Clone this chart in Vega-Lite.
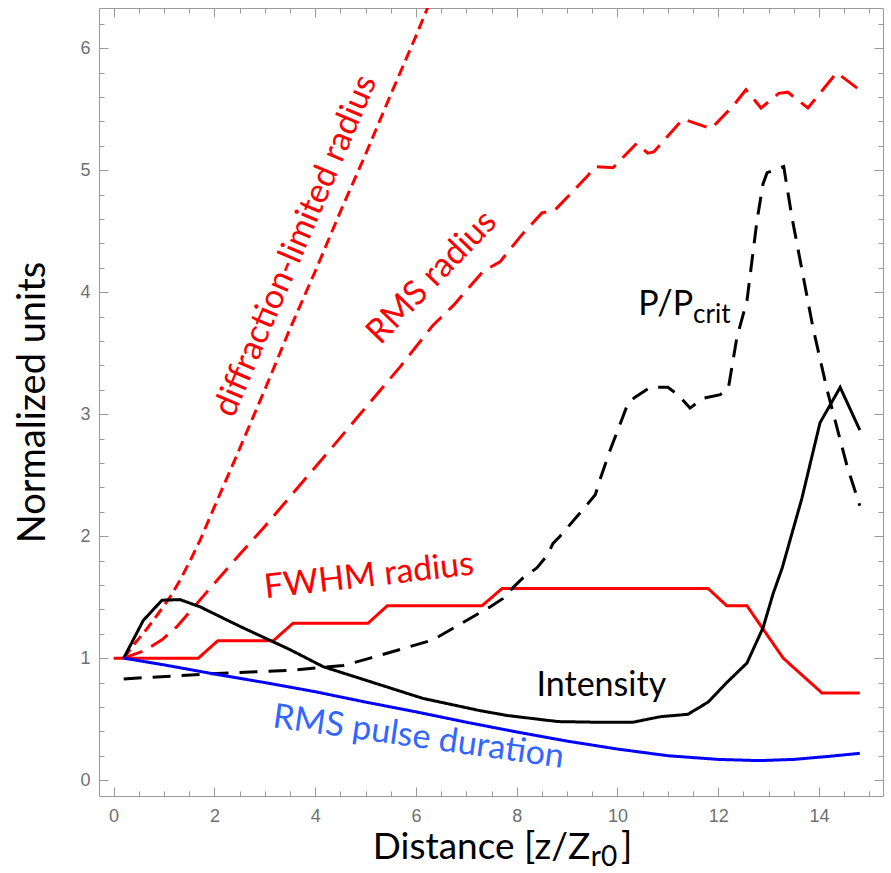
{
  "$schema": "https://vega.github.io/schema/vega-lite/v6.json",
  "width": 784,
  "height": 788,
  "autosize": {"type": "none"},
  "padding": {"left": 99, "top": 8, "right": 8, "bottom": 77},
  "background": "white",
  "config": {
    "view": {"stroke": "#9a9a9a", "strokeWidth": 1},
    "axis": {"grid": false, "domain": false, "tickColor": "#9a9a9a", "tickWidth": 1, "labelFont": "Liberation Sans", "labelFontSize": 18, "labelColor": "#707070"}
  },
  "datasets": {
    "curves": [
      {"s": "diff", "x": 0.2, "y": 1.0}, {"s": "diff", "x": 0.4, "y": 1.11}, {"s": "diff", "x": 0.66, "y": 1.24}, {"s": "diff", "x": 0.86, "y": 1.35}, {"s": "diff", "x": 1.12, "y": 1.5}, {"s": "diff", "x": 1.32, "y": 1.64}, {"s": "diff", "x": 1.52, "y": 1.8}, {"s": "diff", "x": 1.72, "y": 1.97}, {"s": "diff", "x": 2.0, "y": 2.24}, {"s": "diff", "x": 2.4, "y": 2.62}, {"s": "diff", "x": 3.0, "y": 3.2}, {"s": "diff", "x": 3.5, "y": 3.7}, {"s": "diff", "x": 4.0, "y": 4.17}, {"s": "diff", "x": 4.5, "y": 4.66}, {"s": "diff", "x": 5.0, "y": 5.13}, {"s": "diff", "x": 5.5, "y": 5.62}, {"s": "diff", "x": 6.0, "y": 6.1}, {"s": "diff", "x": 6.5, "y": 6.6},
      {"s": "rms", "x": 0.2, "y": 1.0}, {"s": "rms", "x": 0.6, "y": 1.06}, {"s": "rms", "x": 0.96, "y": 1.15}, {"s": "rms", "x": 1.26, "y": 1.26}, {"s": "rms", "x": 1.72, "y": 1.48}, {"s": "rms", "x": 2.5, "y": 1.85}, {"s": "rms", "x": 3.0, "y": 2.08}, {"s": "rms", "x": 3.7, "y": 2.42}, {"s": "rms", "x": 4.3, "y": 2.71}, {"s": "rms", "x": 4.89, "y": 3.0}, {"s": "rms", "x": 5.69, "y": 3.39}, {"s": "rms", "x": 6.34, "y": 3.73}, {"s": "rms", "x": 6.74, "y": 3.89}, {"s": "rms", "x": 7.33, "y": 4.17}, {"s": "rms", "x": 7.67, "y": 4.25}, {"s": "rms", "x": 8.1, "y": 4.47}, {"s": "rms", "x": 8.5, "y": 4.65}, {"s": "rms", "x": 8.75, "y": 4.67}, {"s": "rms", "x": 9.4, "y": 4.95}, {"s": "rms", "x": 9.56, "y": 5.03}, {"s": "rms", "x": 9.91, "y": 5.02}, {"s": "rms", "x": 10.38, "y": 5.22}, {"s": "rms", "x": 10.6, "y": 5.14}, {"s": "rms", "x": 10.72, "y": 5.15}, {"s": "rms", "x": 11.3, "y": 5.42}, {"s": "rms", "x": 11.86, "y": 5.34}, {"s": "rms", "x": 12.3, "y": 5.53}, {"s": "rms", "x": 12.55, "y": 5.66}, {"s": "rms", "x": 12.85, "y": 5.51}, {"s": "rms", "x": 13.2, "y": 5.63}, {"s": "rms", "x": 13.38, "y": 5.64}, {"s": "rms", "x": 13.78, "y": 5.51}, {"s": "rms", "x": 14.35, "y": 5.8}, {"s": "rms", "x": 14.8, "y": 5.66},
      {"s": "fwhm", "x": 0.0, "y": 1.0}, {"s": "fwhm", "x": 1.68, "y": 1.0}, {"s": "fwhm", "x": 2.07, "y": 1.143}, {"s": "fwhm", "x": 3.17, "y": 1.143}, {"s": "fwhm", "x": 3.56, "y": 1.286}, {"s": "fwhm", "x": 5.05, "y": 1.286}, {"s": "fwhm", "x": 5.43, "y": 1.429}, {"s": "fwhm", "x": 7.31, "y": 1.429}, {"s": "fwhm", "x": 7.71, "y": 1.571}, {"s": "fwhm", "x": 11.8, "y": 1.571}, {"s": "fwhm", "x": 12.17, "y": 1.429}, {"s": "fwhm", "x": 12.57, "y": 1.429}, {"s": "fwhm", "x": 13.29, "y": 1.0}, {"s": "fwhm", "x": 14.06, "y": 0.714}, {"s": "fwhm", "x": 14.81, "y": 0.714},
      {"s": "power", "x": 0.2, "y": 0.83}, {"s": "power", "x": 2.05, "y": 0.875}, {"s": "power", "x": 3.5, "y": 0.9}, {"s": "power", "x": 4.56, "y": 0.94}, {"s": "power", "x": 5.09, "y": 1.0}, {"s": "power", "x": 6.34, "y": 1.15}, {"s": "power", "x": 7.47, "y": 1.42}, {"s": "power", "x": 7.73, "y": 1.49}, {"s": "power", "x": 7.93, "y": 1.58}, {"s": "power", "x": 8.13, "y": 1.66}, {"s": "power", "x": 8.4, "y": 1.74}, {"s": "power", "x": 8.6, "y": 1.84}, {"s": "power", "x": 8.72, "y": 1.94}, {"s": "power", "x": 8.86, "y": 2.0}, {"s": "power", "x": 9.36, "y": 2.24}, {"s": "power", "x": 9.56, "y": 2.34}, {"s": "power", "x": 9.65, "y": 2.46}, {"s": "power", "x": 9.85, "y": 2.7}, {"s": "power", "x": 10.21, "y": 3.09}, {"s": "power", "x": 10.35, "y": 3.14}, {"s": "power", "x": 10.65, "y": 3.22}, {"s": "power", "x": 11.0, "y": 3.22}, {"s": "power", "x": 11.2, "y": 3.16}, {"s": "power", "x": 11.44, "y": 3.05}, {"s": "power", "x": 11.7, "y": 3.13}, {"s": "power", "x": 12.04, "y": 3.16}, {"s": "power", "x": 12.2, "y": 3.21}, {"s": "power", "x": 12.37, "y": 3.63}, {"s": "power", "x": 12.57, "y": 3.93}, {"s": "power", "x": 12.77, "y": 4.59}, {"s": "power", "x": 12.89, "y": 4.89}, {"s": "power", "x": 12.97, "y": 4.98}, {"s": "power", "x": 13.3, "y": 5.03}, {"s": "power", "x": 13.46, "y": 4.62}, {"s": "power", "x": 13.88, "y": 3.71}, {"s": "power", "x": 14.16, "y": 3.2}, {"s": "power", "x": 14.56, "y": 2.57}, {"s": "power", "x": 14.81, "y": 2.25},
      {"s": "intensity", "x": 0.2, "y": 1.0}, {"s": "intensity", "x": 0.59, "y": 1.31}, {"s": "intensity", "x": 0.96, "y": 1.475}, {"s": "intensity", "x": 1.32, "y": 1.48}, {"s": "intensity", "x": 1.72, "y": 1.42}, {"s": "intensity", "x": 2.51, "y": 1.26}, {"s": "intensity", "x": 3.5, "y": 1.07}, {"s": "intensity", "x": 4.16, "y": 0.93}, {"s": "intensity", "x": 5.15, "y": 0.8}, {"s": "intensity", "x": 6.14, "y": 0.67}, {"s": "intensity", "x": 7.27, "y": 0.57}, {"s": "intensity", "x": 7.81, "y": 0.53}, {"s": "intensity", "x": 8.82, "y": 0.48}, {"s": "intensity", "x": 9.55, "y": 0.475}, {"s": "intensity", "x": 10.31, "y": 0.475}, {"s": "intensity", "x": 10.85, "y": 0.52}, {"s": "intensity", "x": 11.4, "y": 0.54}, {"s": "intensity", "x": 11.8, "y": 0.64}, {"s": "intensity", "x": 12.17, "y": 0.8}, {"s": "intensity", "x": 12.57, "y": 0.96}, {"s": "intensity", "x": 12.89, "y": 1.25}, {"s": "intensity", "x": 13.09, "y": 1.53}, {"s": "intensity", "x": 13.27, "y": 1.74}, {"s": "intensity", "x": 13.66, "y": 2.31}, {"s": "intensity", "x": 14.02, "y": 2.93}, {"s": "intensity", "x": 14.42, "y": 3.22}, {"s": "intensity", "x": 14.81, "y": 2.87},
      {"s": "pulse", "x": 0.2, "y": 1.0}, {"s": "pulse", "x": 1.0, "y": 0.945}, {"s": "pulse", "x": 2.0, "y": 0.87}, {"s": "pulse", "x": 3.0, "y": 0.8}, {"s": "pulse", "x": 4.0, "y": 0.725}, {"s": "pulse", "x": 5.0, "y": 0.64}, {"s": "pulse", "x": 6.0, "y": 0.56}, {"s": "pulse", "x": 7.0, "y": 0.475}, {"s": "pulse", "x": 8.0, "y": 0.395}, {"s": "pulse", "x": 9.0, "y": 0.32}, {"s": "pulse", "x": 10.0, "y": 0.255}, {"s": "pulse", "x": 11.0, "y": 0.2}, {"s": "pulse", "x": 12.0, "y": 0.17}, {"s": "pulse", "x": 12.8, "y": 0.16}, {"s": "pulse", "x": 13.5, "y": 0.17}, {"s": "pulse", "x": 14.2, "y": 0.195}, {"s": "pulse", "x": 14.81, "y": 0.22}
    ]
  },
  "layer": [
    {
      "data": {"name": "curves"},
      "mark": {"type": "line", "strokeWidth": 3, "clip": true, "strokeCap": "butt"},
      "encoding": {
        "x": {"field": "x", "type": "quantitative", "scale": {"domain": [-0.29, 15.27], "nice": false, "zero": false},
              "axis": {"orient": "bottom", "values": [0, 2, 4, 6, 8, 10, 12, 14], "tickSize": -9, "labelPadding": 20, "title": null}},
        "y": {"field": "y", "type": "quantitative", "scale": {"domain": [-0.13, 6.33], "nice": false, "zero": false},
              "axis": {"orient": "left", "values": [0, 1, 2, 3, 4, 5, 6], "tickSize": -9, "labelPadding": 18, "title": "Normalized units", "titleFont": "Lato", "titleFontSize": 38, "titleFontWeight": "normal", "titleColor": "black", "titlePadding": 27}},
        "color": {"field": "s", "type": "nominal", "legend": null,
                  "scale": {"domain": ["diff", "rms", "fwhm", "power", "intensity", "pulse"], "range": ["#ff0000", "#ff0000", "#ff0000", "#000000", "#000000", "#0000ff"]}},
        "strokeDash": {"field": "s", "type": "nominal", "legend": null,
                  "scale": {"domain": ["diff", "rms", "fwhm", "power", "intensity", "pulse"], "range": [[11, 6], [20, 10], [1, 0], [18, 11], [1, 0], [1, 0]]}}
      }
    },
    {
      "data": {"values": [{"t": "diffraction-limited radius", "x": 3.62, "y": 4.38}]},
      "mark": {"type": "text", "font": "Lato", "fontSize": 34, "color": "#ff0000", "angle": -67, "align": "center", "baseline": "middle"},
      "encoding": {
        "x": {"field": "x", "type": "quantitative", "scale": {"domain": [-0.29, 15.27], "nice": false, "zero": false},
              "axis": {"orient": "bottom", "values": [0.5, 1, 1.5, 2.5, 3, 3.5, 4.5, 5, 5.5, 6.5, 7, 7.5, 8.5, 9, 9.5, 10.5, 11, 11.5, 12.5, 13, 13.5, 14.5, 15], "tickSize": -5, "labels": false, "title": null}},
        "y": {"field": "y", "type": "quantitative", "scale": {"domain": [-0.13, 6.33], "nice": false, "zero": false},
              "axis": {"orient": "left", "values": [0.2, 0.4, 0.6, 0.8, 1.2, 1.4, 1.6, 1.8, 2.2, 2.4, 2.6, 2.8, 3.2, 3.4, 3.6, 3.8, 4.2, 4.4, 4.6, 4.8, 5.2, 5.4, 5.6, 5.8, 6.2], "tickSize": -5, "labels": false, "title": null}},
        "text": {"field": "t"}
      }
    },
    {
      "data": {"values": [{"t": "RMS radius", "x": 6.32, "y": 4.12}]},
      "mark": {"type": "text", "font": "Lato", "fontSize": 34, "color": "#ff0000", "angle": -46, "align": "center", "baseline": "middle"},
      "encoding": {
        "x": {"field": "x", "type": "quantitative", "scale": {"domain": [-0.29, 15.27], "nice": false, "zero": false},
              "axis": {"orient": "top", "values": [0, 2, 4, 6, 8, 10, 12, 14], "tickSize": -9, "labels": false, "title": null}},
        "y": {"field": "y", "type": "quantitative", "scale": {"domain": [-0.13, 6.33], "nice": false, "zero": false},
              "axis": {"orient": "right", "values": [0, 1, 2, 3, 4, 5, 6], "tickSize": -9, "labels": false, "title": null}},
        "text": {"field": "t"}
      }
    },
    {
      "data": {"values": [{"t": "FWHM radius", "x": 5.07, "y": 1.67}]},
      "mark": {"type": "text", "font": "Lato", "fontSize": 34, "color": "#ff0000", "angle": -6.5, "align": "center", "baseline": "middle"},
      "encoding": {
        "x": {"field": "x", "type": "quantitative", "scale": {"domain": [-0.29, 15.27], "nice": false, "zero": false},
              "axis": {"orient": "top", "values": [0.5, 1, 1.5, 2.5, 3, 3.5, 4.5, 5, 5.5, 6.5, 7, 7.5, 8.5, 9, 9.5, 10.5, 11, 11.5, 12.5, 13, 13.5, 14.5, 15], "tickSize": -5, "labels": false, "title": null}},
        "y": {"field": "y", "type": "quantitative", "scale": {"domain": [-0.13, 6.33], "nice": false, "zero": false},
              "axis": {"orient": "right", "values": [0.2, 0.4, 0.6, 0.8, 1.2, 1.4, 1.6, 1.8, 2.2, 2.4, 2.6, 2.8, 3.2, 3.4, 3.6, 3.8, 4.2, 4.4, 4.6, 4.8, 5.2, 5.4, 5.6, 5.8, 6.2], "tickSize": -5, "labels": false, "title": null}},
        "text": {"field": "t"}
      }
    },
    {
      "data": {"values": [{"t": "RMS pulse duration", "x": 6.05, "y": 0.35}]},
      "mark": {"type": "text", "font": "Lato", "fontSize": 34, "color": "#3366ff", "angle": 8, "align": "center", "baseline": "middle"},
      "encoding": {
        "x": {"field": "x", "type": "quantitative", "scale": {"domain": [-0.29, 15.27], "nice": false, "zero": false}, "axis": null},
        "y": {"field": "y", "type": "quantitative", "scale": {"domain": [-0.13, 6.33], "nice": false, "zero": false}, "axis": null},
        "text": {"field": "t"}
      }
    },
    {
      "data": {"values": [{"t": "Intensity", "x": 9.68, "y": 0.689}]},
      "mark": {"type": "text", "font": "Lato", "fontSize": 34, "color": "black", "align": "center", "baseline": "alphabetic"},
      "encoding": {
        "x": {"field": "x", "type": "quantitative", "scale": {"domain": [-0.29, 15.27], "nice": false, "zero": false}, "axis": null},
        "y": {"field": "y", "type": "quantitative", "scale": {"domain": [-0.13, 6.33], "nice": false, "zero": false}, "axis": null},
        "text": {"field": "t"}
      }
    },
    {
      "data": {"values": [{"t": "P/P", "x": 11.5, "y": 3.81}]},
      "mark": {"type": "text", "font": "Lato", "fontSize": 34, "color": "black", "align": "right", "baseline": "alphabetic"},
      "encoding": {
        "x": {"field": "x", "type": "quantitative", "scale": {"domain": [-0.29, 15.27], "nice": false, "zero": false}, "axis": null},
        "y": {"field": "y", "type": "quantitative", "scale": {"domain": [-0.13, 6.33], "nice": false, "zero": false}, "axis": null},
        "text": {"field": "t"}
      }
    },
    {
      "data": {"values": [{"t": "crit", "x": 11.5, "y": 3.75}]},
      "mark": {"type": "text", "font": "Lato", "fontSize": 26, "color": "black", "align": "left", "baseline": "alphabetic"},
      "encoding": {
        "x": {"field": "x", "type": "quantitative", "scale": {"domain": [-0.29, 15.27], "nice": false, "zero": false}, "axis": null},
        "y": {"field": "y", "type": "quantitative", "scale": {"domain": [-0.13, 6.33], "nice": false, "zero": false}, "axis": null},
        "text": {"field": "t"}
      }
    },
    {
      "data": {"values": [{"t": "Distance [z/Z", "x": 9.46, "y": -0.65}]},
      "mark": {"type": "text", "font": "Lato", "fontSize": 37, "color": "black", "align": "right", "baseline": "alphabetic"},
      "encoding": {
        "x": {"field": "x", "type": "quantitative", "scale": {"domain": [-0.29, 15.27], "nice": false, "zero": false}, "axis": null},
        "y": {"field": "y", "type": "quantitative", "scale": {"domain": [-0.13, 6.33], "nice": false, "zero": false}, "axis": null},
        "text": {"field": "t"}
      }
    },
    {
      "data": {"values": [{"t": "r0", "x": 9.47, "y": -0.7}]},
      "mark": {"type": "text", "font": "Lato", "fontSize": 28, "color": "black", "align": "left", "baseline": "alphabetic"},
      "encoding": {
        "x": {"field": "x", "type": "quantitative", "scale": {"domain": [-0.29, 15.27], "nice": false, "zero": false}, "axis": null},
        "y": {"field": "y", "type": "quantitative", "scale": {"domain": [-0.13, 6.33], "nice": false, "zero": false}, "axis": null},
        "text": {"field": "t"}
      }
    },
    {
      "data": {"values": [{"t": "]", "x": 10.07, "y": -0.65}]},
      "mark": {"type": "text", "font": "Lato", "fontSize": 37, "color": "black", "align": "left", "baseline": "alphabetic"},
      "encoding": {
        "x": {"field": "x", "type": "quantitative", "scale": {"domain": [-0.29, 15.27], "nice": false, "zero": false}, "axis": null},
        "y": {"field": "y", "type": "quantitative", "scale": {"domain": [-0.13, 6.33], "nice": false, "zero": false}, "axis": null},
        "text": {"field": "t"}
      }
    }
  ],
  "resolve": {"axis": {"x": "independent", "y": "independent"}}
}
